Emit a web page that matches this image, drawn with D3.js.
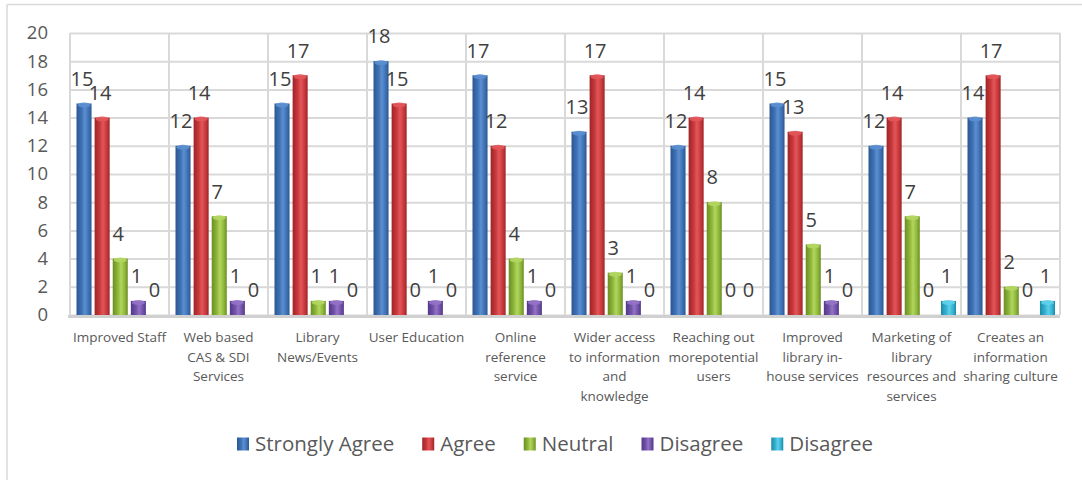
<!DOCTYPE html>
<html>
<head>
<meta charset="utf-8">
<script src="https://cdn.jsdelivr.net/npm/d3@7/dist/d3.min.js"></script>
<style>
  body { margin: 0; background: #fff; }
  svg { display: block; font-family: "Open Sans", sans-serif; }
</style>
</head>
<body>
<svg id="chart" width="1082" height="480"></svg>
<script>
// categories (line breaks as in the picture)
var categories = [
  "Improved Staff",
  "Web based\nCAS & SDI\nServices",
  "Library\nNews/Events",
  "User Education",
  "Online\nreference\nservice",
  "Wider access\nto information\nand\nknowledge",
  "Reaching out\nmorepotential\nusers",
  "Improved\nlibrary in-\nhouse services",
  "Marketing of\nlibrary\nresources and\nservices",
  "Creates an\ninformation\nsharing culture"
];
var seriesNames = ["Strongly Agree", "Agree", "Neutral", "Disagree", "Disagree"];
var stronglyAgree = [15, 12, 15, 18, 17, 13, 12, 15, 12, 14];
var agree         = [14, 14, 17, 15, 12, 17, 14, 13, 14, 17];
var neutral       = [4, 7, 1, 0, 4, 3, 8, 5, 7, 2];
var disagree      = [1, 1, 1, 1, 1, 1, 0, 1, 0, 0];
var disagree2     = [0, 0, 0, 0, 0, 0, 0, 0, 1, 1];
var yTicks = [0, 2, 4, 6, 8, 10, 12, 14, 16, 18, 20];

var allSeries = [stronglyAgree, agree, neutral, disagree, disagree2];
// [dark edge, highlight, mid]
var colors = [
  ["#2b5792", "#5b8fd0", "#3f72b5"],
  ["#9e2427", "#e2575a", "#c9393c"],
  ["#6a8d22", "#b2d660", "#8fb83a"],
  ["#54378a", "#9473c6", "#7052a6"],
  ["#1d8aa6", "#5fd0ea", "#36b3d2"]
];

var svg = d3.select("#chart");
var plotL = 70, plotR = 1060, plotT = 33, plotB = 315;

// outer frame (top and left edges visible)
svg.append("line").attr("x1", 7).attr("x2", 1082).attr("y1", 4.5).attr("y2", 4.5)
  .attr("stroke", "#d9d9d9").attr("stroke-width", 1.5);
svg.append("line").attr("x1", 7).attr("x2", 7).attr("y1", 4.5).attr("y2", 480)
  .attr("stroke", "#d9d9d9").attr("stroke-width", 1.5);

var x0 = d3.scaleBand().domain(d3.range(categories.length)).range([plotL, plotR]).padding(0);
var x1 = d3.scaleBand().domain(d3.range(allSeries.length)).range([6.5, 94]).paddingInner(0.17).paddingOuter(0);
var y = d3.scaleLinear().domain([0, 20]).range([plotB, plotT]);

// gradients for cylinder look
var defs = svg.append("defs");
colors.forEach(function(c, i) {
  var g = defs.append("linearGradient").attr("id", "g" + i)
    .attr("x1", 0).attr("x2", 1).attr("y1", 0).attr("y2", 0);
  g.append("stop").attr("offset", "0%").attr("stop-color", c[0]);
  g.append("stop").attr("offset", "35%").attr("stop-color", c[2]);
  g.append("stop").attr("offset", "55%").attr("stop-color", c[1]);
  g.append("stop").attr("offset", "80%").attr("stop-color", c[2]);
  g.append("stop").attr("offset", "100%").attr("stop-color", c[0]);
});

// horizontal gridlines + y labels
var yAxis = d3.axisLeft(y).tickValues(yTicks).tickSize(-(plotR - plotL)).tickPadding(22);
var ya = svg.append("g").attr("transform", "translate(" + plotL + ",0)").call(yAxis);
ya.select(".domain").remove();
ya.selectAll(".tick line").attr("stroke", "#d9d9d9").attr("stroke-width", 2);
ya.selectAll(".tick text").attr("fill", "#595959").style("font-size", "18.5px")
  .style("font-family", "'Open Sans', sans-serif");

// vertical category lines
svg.append("g").selectAll("line").data(d3.range(categories.length + 1)).enter().append("line")
  .attr("x1", function(i) { return plotL + i * x0.bandwidth(); })
  .attr("x2", function(i) { return plotL + i * x0.bandwidth(); })
  .attr("y1", plotT).attr("y2", plotB)
  .attr("stroke", "#d9d9d9").attr("stroke-width", 2);

// floor
svg.append("line").attr("x1", plotL - 2).attr("x2", plotR).attr("y1", plotB + 1.5).attr("y2", plotB + 1.5)
  .attr("stroke", "#d0d0d0").attr("stroke-width", 3);

// bars
var groups = svg.append("g").selectAll("g").data(categories).enter().append("g")
  .attr("transform", function(d, i) { return "translate(" + x0(i) + ",0)"; });

var cells = groups.selectAll("g").data(function(d, i) {
  return allSeries.map(function(s, k) { return { k: k, v: s[i] }; });
}).enter().append("g");

cells.filter(function(d) { return d.v > 0; }).append("rect")
  .attr("x", function(d) { return x1(d.k); })
  .attr("width", x1.bandwidth())
  .attr("y", function(d) { return y(d.v); })
  .attr("height", function(d) { return y(0) - y(d.v); })
  .attr("fill", function(d) { return "url(#g" + d.k + ")"; });

cells.filter(function(d) { return d.v > 0; }).append("ellipse")
  .attr("cx", function(d) { return x1(d.k) + x1.bandwidth() / 2; })
  .attr("cy", function(d) { return y(d.v) + 1.5; })
  .attr("rx", x1.bandwidth() / 2 - 1)
  .attr("ry", 2.5)
  .attr("fill", function(d) { return colors[d.k][1]; })
  .attr("opacity", 0.9);

cells.append("text")
  .attr("x", function(d) { return x1(d.k) + x1.bandwidth() / 2 - 2; })
  .attr("y", function(d) { return y(d.v) - 25; })
  .attr("dy", "0.36em")
  .attr("text-anchor", "middle")
  .attr("fill", "#404040")
  .style("font-size", "20px")
  .text(function(d) { return d.v; });

// x labels
var xl = svg.append("g").selectAll("text").data(categories).enter().append("text")
  .attr("x", function(d, i) { return x0(i) + x0.bandwidth() / 2; })
  .attr("y", 342)
  .attr("text-anchor", "middle")
  .attr("fill", "#595959")
  .style("font-size", "13.5px");
xl.each(function(d) {
  var t = d3.select(this);
  d.split("\n").forEach(function(line, j) {
    t.append("tspan").attr("x", t.attr("x")).attr("dy", j === 0 ? 0 : 19.7).text(line);
  });
});

// legend
var leg = svg.append("g");
var items = leg.selectAll("g").data(seriesNames).enter().append("g");
items.append("rect").attr("x", 0).attr("y", -6.5).attr("width", 12).attr("height", 13)
  .attr("fill", function(d, i) { return "url(#g" + i + ")"; });
items.append("text").attr("x", 18).attr("y", 0).attr("dy", "0.35em")
  .attr("fill", "#595959").style("font-size", "20.5px")
  .text(function(d) { return d; });
var pos = 0;
items.each(function() {
  var w = 18 + d3.select(this).select("text").node().getComputedTextLength();
  d3.select(this).attr("transform", "translate(" + pos + ",0)");
  pos += w + 28;
});
var total = pos - 28;
leg.attr("transform", "translate(" + (555 - total / 2) + ",444)");
</script>
</body>
</html>
